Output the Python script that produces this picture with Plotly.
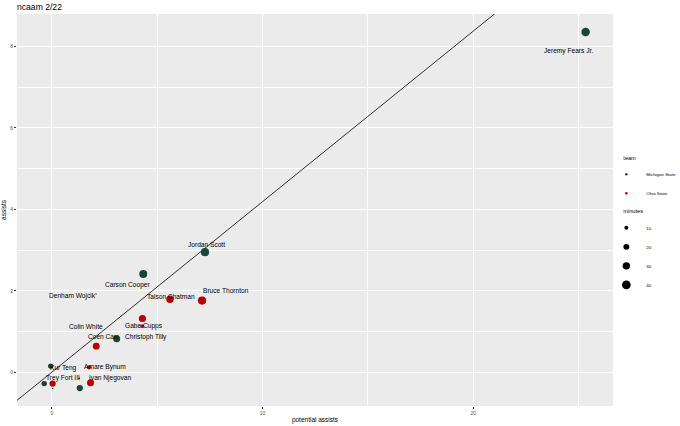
import numpy as np
import plotly.graph_objects as go

# ---------------- data ----------------
labels = ["Jeremy Fears Jr.", "Jordan Scott", "Carson Cooper", "Denham Wojcik",
          "Taison Chatman", "Bruce Thornton", "Gabe Cupps", "Christoph Tilly",
          "Coen Carr", "Colin White", "Kur Teng", "Amare Bynum", "Trey Fort III",
          "Ivan Njegovan", None, None, None, None]
teams = ["Michigan State", "Michigan State", "Michigan State", "Michigan State",
         "Ohio State", "Ohio State", "Ohio State", "Ohio State",
         "Michigan State", "Ohio State", "Michigan State", "Ohio State", "Michigan State",
         "Ohio State", "Michigan State", "Ohio State", "Michigan State", "Michigan State"]
potential_assists = [25.33, 7.27, 4.34, 2.10, 5.61, 7.13, 4.30, 4.30,
                     3.08, 2.11, -0.05, 1.77, 1.30, 1.84, -0.36, 0.04, 0.04, 1.33]
assists = [8.36, 2.95, 2.41, 1.92, 1.79, 1.76, 1.32, 1.13,
           0.82, 0.64, 0.15, 0.12, -0.15, -0.26, -0.28, -0.28, -0.40, -0.39]
minutes = [38, 36, 34, 2, 30, 36, 28, 9, 27, 26, 17, 11, 3, 27, 17, 22, 2, 22]

team_names = ["Michigan State", "Ohio State"]
minute_breaks = [10, 20, 30, 40]

fit_slope = 0.419
fit_intercept = 0.0

x_ticks = [0, 10, 20]
y_ticks = [0, 2, 4, 6, 8]

# ---------------- styling ----------------
team_colors = {"Michigan State": "#18453B", "Ohio State": "#BB0000"}
FONT = "Liberation Sans, Arial, Helvetica, sans-serif"

# label offsets (px) relative to their point, mimicking ggrepel placement
label_offsets = {
    "Jeremy Fears Jr.": (-17, -19), "Jordan Scott": (2, 8), "Carson Cooper": (-15, -11),
    "Denham Wojcik": (-24, -2), "Taison Chatman": (1, 3), "Bruce Thornton": (24, 10),
    "Gabe Cupps": (2, -8), "Christoph Tilly": (4, -11), "Coen Carr": (-13, 2),
    "Colin White": (-10, 20), "Kur Teng": (13, -2), "Amare Bynum": (16, 0),
    "Trey Fort III": (-16, 0), "Ivan Njegovan": (19, 5),
}


def size_px(m):
    return np.maximum(1.49 * np.sqrt(np.asarray(m, dtype=float)) - 0.71, 1.6)


pa = np.array(potential_assists)
ast = np.array(assists)
mins = np.array(minutes)
tm = np.array(teams)

fig = go.Figure()

x_range = [-1.65, 26.63]
y_range = [-0.83, 8.80]

# fitted line
xl = np.array([x_range[0] - 1, x_range[1] + 1])
fig.add_trace(go.Scatter(x=xl, y=fit_slope * xl + fit_intercept, mode="lines",
                         line=dict(color="black", width=0.8), showlegend=False,
                         hoverinfo="skip"))

# points
for t in team_names:
    m = tm == t
    fig.add_trace(go.Scatter(
        x=pa[m], y=ast[m], mode="markers",
        marker=dict(color=team_colors[t], size=size_px(mins[m]), opacity=1,
                    line=dict(width=0)),
        showlegend=False, hoverinfo="skip"))

# legend: team
for t in team_names:
    fig.add_trace(go.Scatter(
        x=[None], y=[None], mode="markers", name=t,
        marker=dict(color=team_colors[t], size=2.5, opacity=1),
        legend="legend",
    ))
# legend: minutes
for b in minute_breaks:
    fig.add_trace(go.Scatter(
        x=[None], y=[None], mode="markers", name=str(b),
        marker=dict(color="black", size=float(size_px([b])[0]), opacity=1),
        legend="legend2",
    ))

# labels
annotations = []
for lab, x, y in zip(labels, potential_assists, assists):
    if lab is None:
        continue
    dx, dy = label_offsets[lab]
    annotations.append(dict(x=x, y=y, xref="x", yref="y", text=lab, showarrow=False,
                            xshift=dx, yshift=dy,
                            font=dict(family=FONT, size=6.6, color="black")))

legend_common = dict(x=1.014, xanchor="left", yanchor="top", indentation=-15,
                     font=dict(size=4.4, color="black"), bgcolor="rgba(0,0,0,0)",
                     tracegroupgap=0, itemsizing="trace")

fig.update_layout(
    width=680, height=426,
    margin=dict(l=17, r=67, t=14, b=20, autoexpand=False),
    paper_bgcolor="white", plot_bgcolor="#EBEBEB",
    font=dict(family=FONT, color="black"),
    title=dict(text="ncaam 2/22", x=17 / 680, xref="container", xanchor="left",
               y=1 - 6.5 / 426, yref="container", yanchor="middle",
               font=dict(family=FONT, size=8.6, color="black")),
    annotations=annotations,
    legend=dict(title=dict(text="team", font=dict(size=5.6, color="black")),
                y=0.647, **legend_common),
    legend2=dict(title=dict(text="minutes", font=dict(size=5.6, color="black")),
                 y=0.51, **legend_common),
)

fig.update_xaxes(
    range=x_range, tickvals=x_ticks, ticktext=[str(v) for v in x_ticks],
    showgrid=True, gridcolor="white", gridwidth=1,
    minor=dict(dtick=5, tick0=0, showgrid=True, gridcolor="white", gridwidth=0.5),
    zeroline=False, ticks="outside", ticklen=2, tickwidth=0.6, tickcolor="#333333",
    tickfont=dict(size=5, color="#4D4D4D"), showline=False, automargin=False,
    title=dict(text="potential assists", font=dict(size=6.5, color="black"), standoff=2),
)
fig.update_yaxes(
    range=y_range, tickvals=y_ticks, ticktext=[str(v) for v in y_ticks],
    showgrid=True, gridcolor="white", gridwidth=1,
    minor=dict(dtick=1, tick0=0, showgrid=True, gridcolor="white", gridwidth=0.5),
    zeroline=False, ticks="outside", ticklen=2, tickwidth=0.6, tickcolor="#333333",
    tickfont=dict(size=5, color="#4D4D4D"), showline=False, automargin=False,
    title=dict(text="assists", font=dict(size=6.5, color="black"), standoff=2),
)

fig.write_html("out.html", config={"displayModeBar": False},
               post_script="document.body.style.margin='0';")
